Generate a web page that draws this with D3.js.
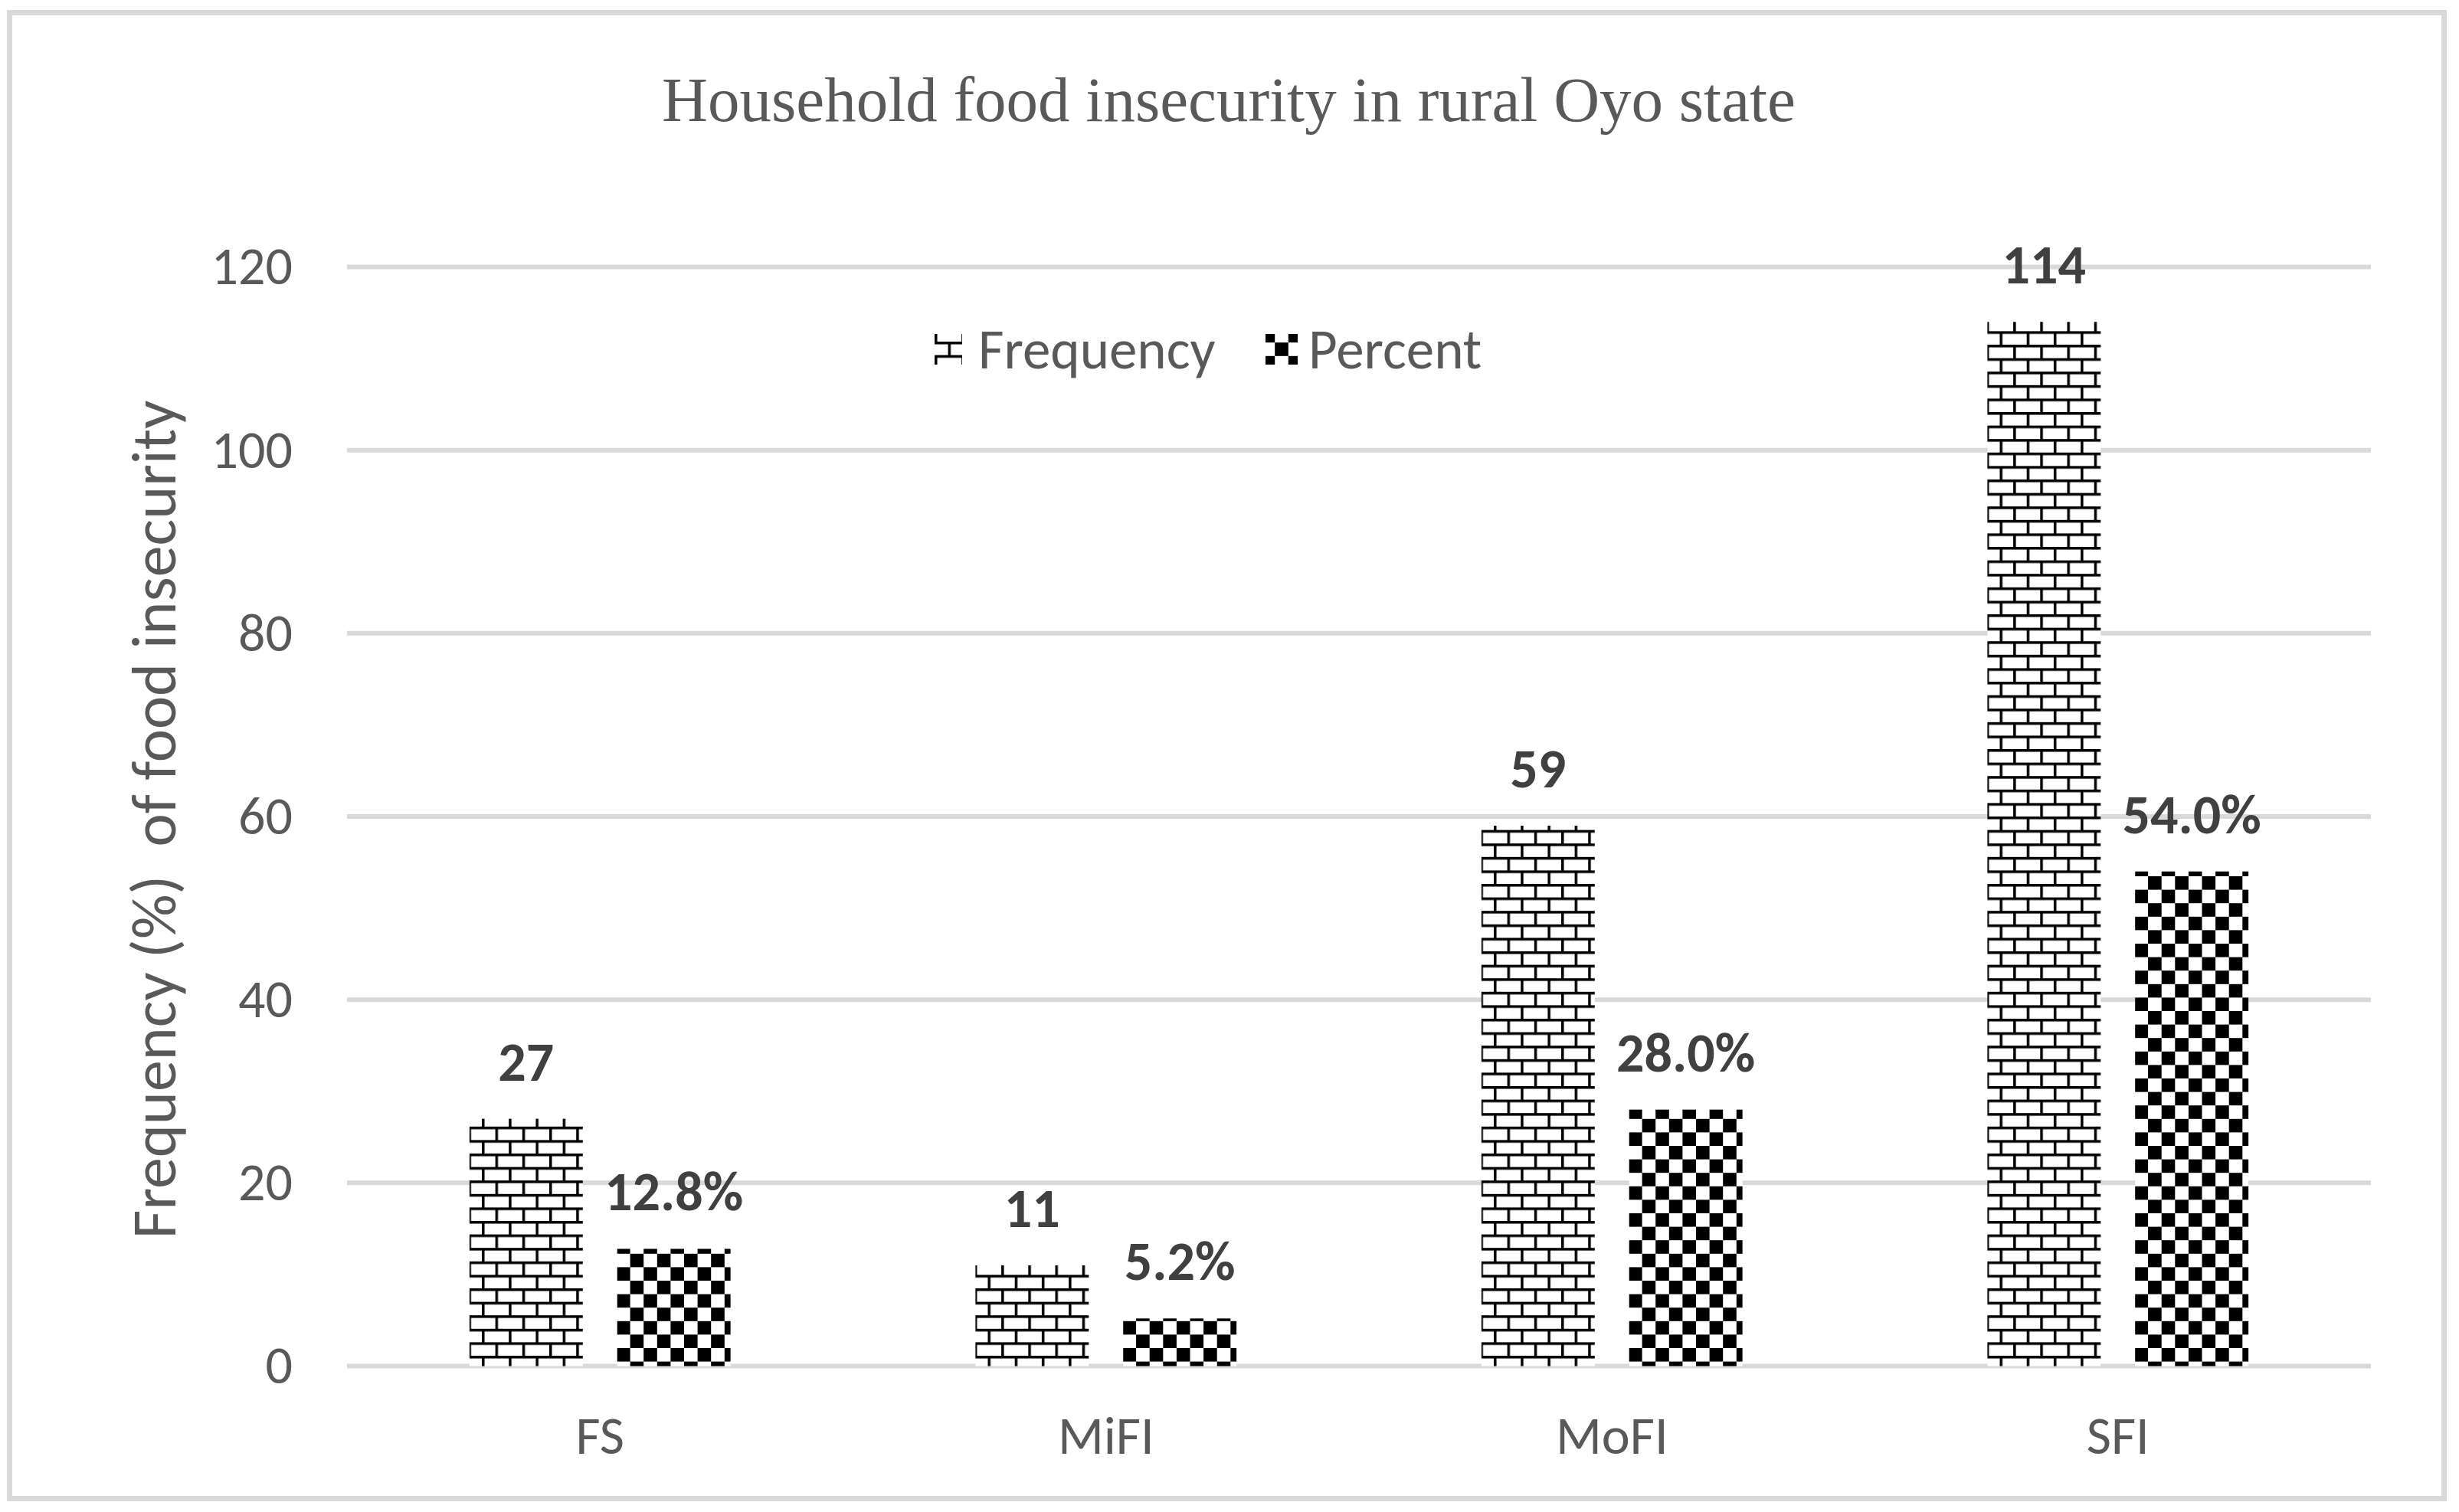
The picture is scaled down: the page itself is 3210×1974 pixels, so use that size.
<!DOCTYPE html>
<html>
<head>
<meta charset="utf-8">
<script src="https://cdn.jsdelivr.net/npm/d3@7"></script>
<style>
  body { margin: 0; background: #fff; }
  text { font-family: Carlito, Lato, sans-serif; fill: #595959; }
</style>
</head>
<body>
<div id="chart"></div>
<script>
// Chart data
const categories = ["FS", "MiFI", "MoFI", "SFI"];
const series = ["Frequency", "Percent"];
const frequency = [27, 11, 59, 114];
const percent = [12.8, 5.2, 28.0, 54.0];
const yTicks = [0, 20, 40, 60, 80, 100, 120];

const width = 3210, height = 1974;
const margin = {top: 348.5, right: 115, bottom: 190.5, left: 453};
const cell = 35.2;

// Initialize SVG element
const svg = d3.select("#chart")
  .append("svg")
    .attr("width", width)
    .attr("height", height);

svg.append("rect")
  .attr("width", width)
  .attr("height", height)
  .attr("fill", "#fff");

// Chart area border
svg.append("rect")
  .attr("x", 12.5)
  .attr("y", 16.5)
  .attr("width", 3178)
  .attr("height", 1940)
  .attr("fill", "none")
  .attr("stroke", "#d9d9d9")
  .attr("stroke-width", 7);

// Fill patterns (brick and large checkerboard)
const defs = svg.append("defs");
const brick = defs.append("pattern")
  .attr("id", "brick")
  .attr("patternUnits", "userSpaceOnUse")
  .attr("width", cell)
  .attr("height", cell)
  .attr("patternTransform", "translate(0,10)");
brick.append("rect").attr("width", cell).attr("height", cell).attr("fill", "#fff");
brick.append("rect").attr("x", 0).attr("y", 0).attr("width", cell).attr("height", 3.5).attr("fill", "#000");
brick.append("rect").attr("x", 0).attr("y", cell / 2).attr("width", cell).attr("height", 3.5).attr("fill", "#000");
brick.append("rect").attr("x", 0).attr("y", 0).attr("width", 3.5).attr("height", cell / 2).attr("fill", "#000");
brick.append("rect").attr("x", cell / 2).attr("y", cell / 2).attr("width", 3.5).attr("height", cell / 2).attr("fill", "#000");

const checker = defs.append("pattern")
  .attr("id", "checker")
  .attr("patternUnits", "userSpaceOnUse")
  .attr("width", cell)
  .attr("height", cell);
checker.append("rect").attr("width", cell).attr("height", cell).attr("fill", "#fff");
checker.append("rect").attr("x", 0).attr("y", 0).attr("width", cell / 2).attr("height", cell / 2).attr("fill", "#000");
checker.append("rect").attr("x", cell / 2).attr("y", cell / 2).attr("width", cell / 2).attr("height", cell / 2).attr("fill", "#000");

const fills = {Frequency: "url(#brick)", Percent: "url(#checker)"};

// Scales
const x = d3.scaleBand()
  .domain(categories)
  .range([margin.left, width - margin.right]);
const xInner = d3.scaleBand()
  .domain(series)
  .range([0, x.bandwidth()])
  .paddingInner(0.233)
  .paddingOuter(0.829);
const y = d3.scaleLinear()
  .domain([0, 120])
  .range([height - margin.bottom, margin.top]);

// Gridlines
svg.append("g")
  .selectAll("line")
  .data(yTicks)
  .enter()
  .append("line")
    .attr("x1", margin.left)
    .attr("x2", width - margin.right)
    .attr("y1", d => y(d))
    .attr("y2", d => y(d))
    .attr("stroke", "#d9d9d9")
    .attr("stroke-width", 6);

// Y axis tick labels
const yAxis = d3.axisLeft(y).tickValues(yTicks).tickSize(0).tickPadding(0);
svg.append("g")
  .attr("transform", "translate(382,0)")
  .call(yAxis)
  .call(g => g.select(".domain").remove())
  .call(g => g.selectAll("text")
    .attr("font-size", 70)
    .attr("font-family", "Carlito, Lato, sans-serif")
    .attr("fill", "#595959"));

// X axis category labels
const xAxis = d3.axisBottom(x).tickSize(0).tickPadding(0);
svg.append("g")
  .attr("transform", "translate(0,1848)")
  .call(xAxis)
  .call(g => g.select(".domain").remove())
  .call(g => g.selectAll("text")
    .attr("font-size", 70)
    .attr("font-family", "Carlito, Lato, sans-serif")
    .attr("fill", "#595959"));

// Bars
const rows = categories.map((c, i) => ({category: c, Frequency: frequency[i], Percent: percent[i]}));
const groups = svg.append("g")
  .selectAll("g")
  .data(rows)
  .enter()
  .append("g")
    .attr("transform", d => "translate(" + x(d.category) + ",0)");

groups.selectAll("rect")
  .data(d => series.map(s => ({key: s, value: d[s]})))
  .enter()
  .append("rect")
    .attr("x", d => xInner(d.key))
    .attr("y", d => y(d.value))
    .attr("width", xInner.bandwidth())
    .attr("height", d => y(0) - y(d.value))
    .attr("fill", d => fills[d.key]);

// Data labels
groups.selectAll("text.label")
  .data(d => series.map(s => ({key: s, value: d[s]})))
  .enter()
  .append("text")
    .attr("class", "label")
    .attr("x", d => xInner(d.key) + xInner.bandwidth() / 2)
    .attr("y", d => y(d.value) - 50)
    .attr("text-anchor", "middle")
    .attr("font-size", 72)
    .attr("font-weight", "bold")
    .style("fill", "#404040")
    .text(d => d.key === "Percent" ? d.value.toFixed(1) + "%" : d.value);

// Title
svg.append("text")
  .attr("x", 1604)
  .attr("y", 158)
  .attr("text-anchor", "middle")
  .attr("font-size", 83)
  .style("font-family", "'Liberation Serif', 'Times New Roman', serif")
  .text("Household food insecurity in rural Oyo state");

// Y axis title
svg.append("text")
  .attr("transform", "translate(229,1070) rotate(-90)")
  .attr("text-anchor", "middle")
  .attr("font-size", 82)
  .style("white-space", "pre")
  .text("Frequency (%)  of food insecurity");

// Legend (icon offsets line the pattern up inside each swatch)
const legendPos = {Frequency: 1220, Percent: 1652};
const iconSize = {Frequency: [36, 40], Percent: [42, 40]};
const iconShift = {Frequency: [cell / 2, 0], Percent: [5.4, 6.4]};
const textX = {Frequency: 57, Percent: 56};

const legend = svg.append("g")
  .selectAll("g")
  .data(series)
  .enter()
  .append("g")
    .attr("transform", d => "translate(" + (legendPos[d] - iconShift[d][0]) + "," + (436 - iconShift[d][1]) + ")");
legend.append("rect")
  .attr("x", d => iconShift[d][0])
  .attr("y", d => iconShift[d][1])
  .attr("width", d => iconSize[d][0])
  .attr("height", d => iconSize[d][1])
  .attr("fill", d => fills[d]);
legend.append("text")
  .attr("x", d => iconShift[d][0] + textX[d])
  .attr("y", d => iconShift[d][1] + 45)
  .attr("font-size", 73)
  .text(d => d);
</script>
</body>
</html>
